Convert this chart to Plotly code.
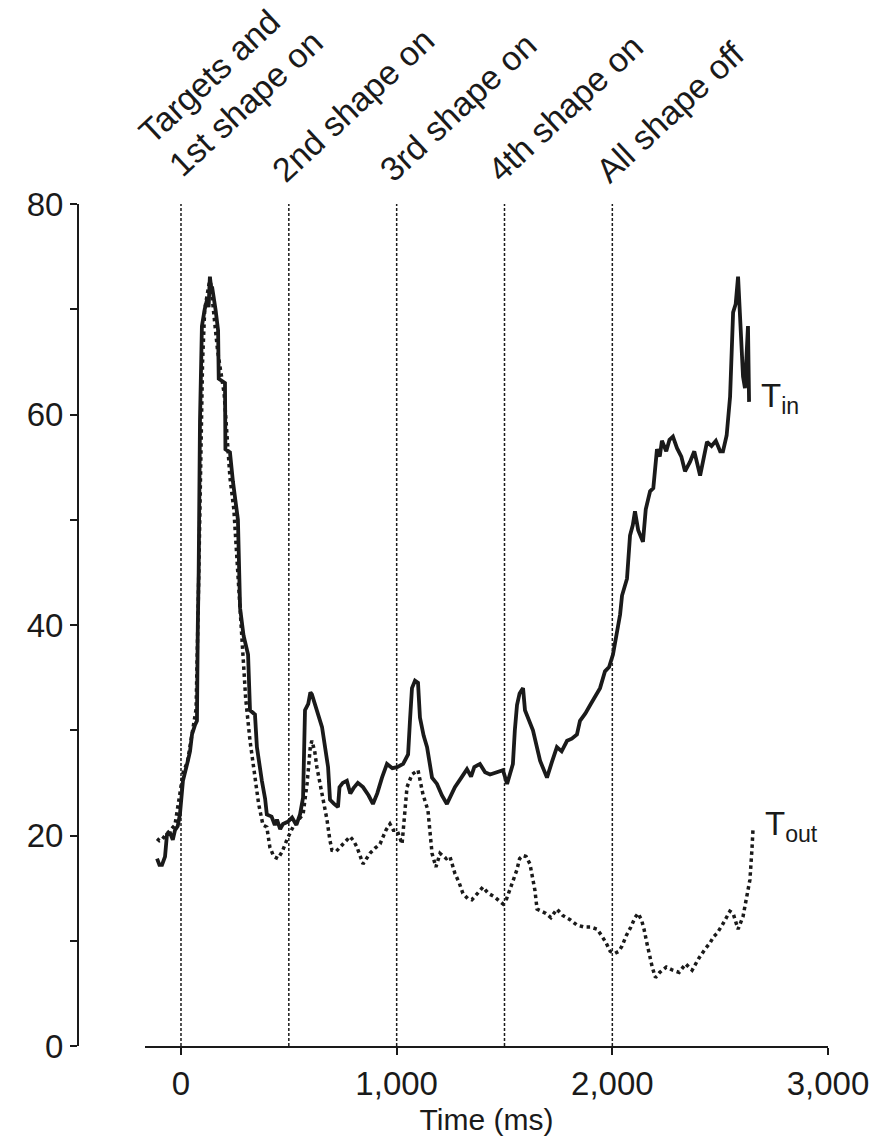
import plotly.graph_objects as go

# Event markers (ms) and their labels
event_times = [0, 500, 1000, 1500, 2000]
event_labels = ["Targets and<br>1st shape on", "2nd shape on", "3rd shape on",
                "4th shape on", "All shape off"]

# Firing rate, target in RF (T_in)
tin_t = [-111, -100, -88, -74, -65, -50, -38, -28, -15, -5, 9, 20, 32, 42, 51, 65, 74,
         78, 82, 88, 97, 110, 122, 128, 134, 140, 145, 160, 172, 175, 190, 204, 206,
         227, 241, 252, 264, 274, 290, 311, 320, 343, 352, 375, 390, 398, 420, 435,
         445, 460, 473, 495, 515, 535, 552, 566, 575, 590, 600, 607, 620, 630, 654,
         682, 691, 710, 728, 735, 750, 769, 785, 800, 820, 844, 870, 890, 910, 932,
         955, 980, 1002, 1030, 1053, 1062, 1071, 1085, 1099, 1108, 1125, 1141, 1164,
         1187, 1210, 1233, 1250, 1270, 1300, 1326, 1345, 1360, 1386, 1410, 1433, 1460,
         1493, 1512, 1530, 1539, 1548, 1558, 1570, 1586, 1595, 1632, 1665, 1697, 1720,
         1743, 1765, 1790, 1812, 1836, 1850, 1875, 1900, 1920, 1943, 1966, 1985, 2003,
         2020, 2036, 2045, 2068, 2082, 2095, 2105, 2120, 2142, 2155, 2175, 2190, 2207,
         2220, 2230, 2250, 2265, 2281, 2300, 2320, 2337, 2360, 2380, 2395, 2407, 2425,
         2439, 2460, 2480, 2500, 2513, 2530, 2546, 2560, 2572, 2583, 2595, 2606, 2615,
         2625, 2629, 2634]
tin_rate = [17.8, 17.2, 17.2, 18.0, 20.1, 20.2, 19.6, 20.5, 20.9, 22.0, 25.2, 26.0, 27.1,
            28.0, 29.6, 30.5, 30.9, 40.0, 45.0, 59.3, 68.4, 70.0, 71.0, 70.2, 73.1, 72.0,
            72.0, 70.0, 68.0, 63.4, 63.2, 63.0, 56.7, 56.4, 53.6, 52.0, 50.0, 41.6, 39.0,
            37.2, 31.9, 31.5, 28.4, 25.2, 23.5, 22.0, 21.8, 21.0, 21.5, 20.6, 21.1, 21.3,
            21.7, 21.0, 22.0, 23.6, 31.9, 32.5, 33.6, 33.4, 32.5, 31.9, 30.3, 26.5, 23.4,
            23.0, 22.7, 24.6, 25.0, 25.2, 24.0, 24.5, 25.0, 24.6, 23.8, 23.0, 24.0, 25.5,
            26.8, 26.4, 26.5, 26.8, 27.7, 31.0, 34.0, 34.7, 34.5, 31.2, 29.5, 28.4, 25.5,
            24.9, 23.8, 23.0, 23.8, 24.6, 25.5, 26.3, 25.6, 26.5, 26.8, 26.0, 25.8, 26.0,
            26.2, 24.9, 26.0, 26.8, 30.0, 32.4, 33.5, 34.0, 31.9, 30.0, 27.1, 25.5, 27.0,
            28.4, 28.0, 29.0, 29.2, 29.6, 30.9, 31.6, 32.5, 33.2, 34.0, 35.6, 36.0, 37.2,
            39.0, 41.0, 42.8, 44.4, 48.5, 49.5, 50.8, 49.0, 47.9, 51.0, 52.7, 53.0, 56.7,
            56.0, 57.5, 56.5, 57.6, 57.9, 56.8, 56.0, 54.6, 55.5, 56.5, 55.0, 54.2, 56.0,
            57.4, 57.0, 57.5, 56.5, 56.5, 58.0, 61.7, 69.7, 70.5, 73.1, 68.0, 63.6, 62.5,
            68.4, 68.4, 61.2]

# Firing rate, target out of RF (T_out)
tout_t = [-111, -100, -88, -74, -50, -28, -5, 10, 30, 50, 70, 80, 90, 100, 110, 125, 135,
          150, 170, 200, 227, 245, 260, 275, 288, 300, 320, 340, 360, 380, 398, 412, 430,
          450, 470, 491, 519, 545, 566, 585, 600, 607, 620, 630, 654, 677, 690, 700, 720,
          751, 784, 800, 816, 844, 876, 900, 923, 950, 969, 985, 1002, 1025, 1048, 1071,
          1099, 1122, 1145, 1164, 1182, 1201, 1230, 1247, 1270, 1290, 1307, 1330, 1349,
          1375, 1400, 1425, 1451, 1475, 1493, 1510, 1525, 1540, 1557, 1570, 1586, 1600,
          1618, 1630, 1641, 1651, 1670, 1692, 1715, 1743, 1770, 1804, 1835, 1869, 1900,
          1929, 1950, 1971, 1990, 2012, 2030, 2045, 2065, 2086, 2105, 2119, 2135, 2147,
          2160, 2170, 2185, 2200, 2220, 2250, 2280, 2310, 2340, 2370, 2400, 2430, 2453,
          2470, 2485, 2510, 2532, 2545, 2560, 2583, 2606, 2625, 2638, 2648, 2652]
tout_rate = [19.7, 19.5, 19.6, 20.0, 20.5, 21.0, 24.0, 26.0, 27.0, 29.5, 32.0, 42.0, 55.0,
             65.0, 70.0, 72.0, 73.0, 70.0, 66.0, 62.0, 54.0, 51.0, 46.0, 40.0, 36.0, 33.0,
             29.0, 26.0, 23.0, 21.0, 20.8, 18.9, 18.0, 17.8, 18.5, 19.6, 20.8, 21.5, 22.0,
             25.0, 28.5, 29.0, 28.0, 26.5, 23.9, 21.5, 19.6, 18.6, 18.5, 19.2, 19.9, 19.5,
             18.9, 17.3, 18.3, 18.8, 19.2, 20.5, 21.1, 20.5, 20.5, 19.2, 24.6, 25.8, 26.2,
             23.9, 22.4, 18.3, 17.0, 18.3, 17.8, 18.0, 16.4, 15.5, 14.5, 14.0, 13.9, 14.5,
             15.1, 14.5, 14.2, 13.8, 13.5, 14.0, 14.8, 15.8, 16.7, 17.8, 18.1, 18.0, 17.3,
             16.0, 14.8, 13.0, 12.8, 12.6, 12.2, 13.0, 12.4, 12.0, 11.5, 11.3, 11.3, 11.1,
             10.5, 9.8, 9.0, 8.8, 9.0, 9.5, 10.5, 11.3, 12.2, 12.6, 12.0, 11.1, 9.8, 8.8,
             7.5, 6.5, 7.0, 7.5, 7.2, 7.0, 7.8, 7.2, 8.3, 9.2, 9.8, 10.4, 10.7, 11.5, 12.3,
             12.8, 12.6, 11.1, 12.3, 14.2, 15.8, 18.9, 20.5]

x_ticks = [0, 1000, 2000, 3000]
x_tick_text = ["0", "1,000", "2,000", "3,000"]
y_ticks = [0, 20, 40, 60, 80]
y_minor_ticks = [10, 30, 50, 70]

FONT = "Liberation Sans, Arial, Helvetica, sans-serif"
INK = "#1a1a1a"

fig = go.Figure()

fig.add_trace(go.Scatter(x=tout_t, y=tout_rate, mode="lines",
                         line=dict(color=INK, width=3.5, dash="dot"),
                         showlegend=False, hoverinfo="skip"))
fig.add_trace(go.Scatter(x=tin_t, y=tin_rate, mode="lines",
                         line=dict(color=INK, width=3.8),
                         showlegend=False, hoverinfo="skip"))

# Event onset lines and rotated labels
for t, label in zip(event_times, event_labels):
    fig.add_shape(type="line", xref="x", yref="y", x0=t, x1=t, y0=0, y1=80,
                  line=dict(color=INK, width=1.5, dash="3px,2px"), layer="below")
    two_lines = "<br>" in label
    fig.add_annotation(x=t, y=80, xref="x", yref="y", text=label, showarrow=False,
                       textangle=-43, xanchor="left", yanchor="bottom", align="left",
                       xshift=-53 if two_lines else -27, yshift=18 if two_lines else 12,
                       font=dict(family=FONT, size=34, color=INK))

# Series labels at the end of each trace
for name, tt, rr in [("in", tin_t, tin_rate), ("out", tout_t, tout_rate)]:
    fig.add_annotation(x=tt[-1], y=rr[-1], xref="x", yref="y",
                       text=f"T<sub>{name}</sub>", showarrow=False,
                       xanchor="left", yanchor="middle", xshift=10, yshift=4,
                       font=dict(family=FONT, size=33, color=INK))

fig.update_layout(
    width=888, height=1143,
    margin=dict(l=78, r=60, t=204, b=93),
    paper_bgcolor="white", plot_bgcolor="white",
    font=dict(family=FONT, size=33, color=INK),
    xaxis=dict(range=[-167, 3000], domain=[0.0893, 1], showgrid=False, zeroline=False,
               showline=True, linecolor=INK, linewidth=2,
               ticks="outside", ticklen=7, tickwidth=2, tickcolor=INK,
               tickvals=x_ticks, ticktext=x_tick_text,
               title=dict(text="Time (ms)", standoff=8, font=dict(size=30))),
    yaxis=dict(range=[0, 80], anchor="free", position=0, showgrid=False, zeroline=False,
               showline=True, linecolor=INK, linewidth=2,
               ticks="outside", ticklen=7, tickwidth=2, tickcolor=INK,
               tickvals=y_ticks,
               minor=dict(tickvals=y_minor_ticks, ticks="outside", ticklen=7,
                          tickwidth=2, tickcolor=INK, showgrid=False)),
)

fig.write_html("out.html")
